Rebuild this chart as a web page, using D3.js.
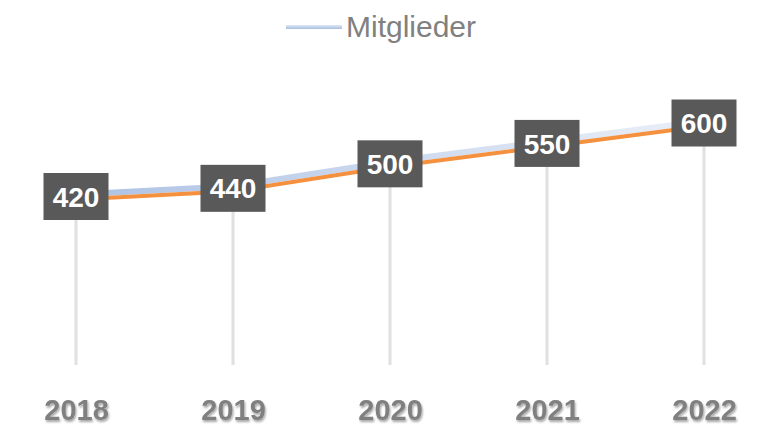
<!DOCTYPE html>
<html>
<head>
<meta charset="utf-8">
<script src="https://cdn.jsdelivr.net/npm/d3@7"></script>
<style>
  body { margin: 0; background: #fff; }
  svg { display: block; }
</style>
</head>
<body>
<div id="chart"></div>
<script>
// Daten
var years = ["2018", "2019", "2020", "2021", "2022"];
var mitglieder = [420, 440, 500, 550, 600];
var seriesName = "Mitglieder";

var width = 773;
var height = 428;

var svg = d3.select("#chart")
    .append("svg")
    .attr("width", width)
    .attr("height", height);

var defs = svg.append("defs");

// Verlauf für die blaue Linie (links kräftiger, rechts heller)
var grad = defs.append("linearGradient")
    .attr("id", "blueGrad")
    .attr("gradientUnits", "userSpaceOnUse")
    .attr("x1", 76).attr("x2", 704).attr("y1", 0).attr("y2", 0);
grad.append("stop").attr("offset", "0%").attr("stop-color", "#adc2e4");
grad.append("stop").attr("offset", "100%").attr("stop-color", "#ebf0f8");

var legGrad = defs.append("linearGradient")
    .attr("id", "legGrad")
    .attr("x1", 0).attr("x2", 0).attr("y1", 0).attr("y2", 1);
legGrad.append("stop").attr("offset", "0%").attr("stop-color", "#dfe7f4");
legGrad.append("stop").attr("offset", "100%").attr("stop-color", "#a9bfe2");

var dropGrad = defs.append("linearGradient")
    .attr("id", "dropGrad")
    .attr("x1", 0).attr("x2", 1).attr("y1", 0).attr("y2", 0);
dropGrad.append("stop").attr("offset", "0%").attr("stop-color", "#f5f5f5");
dropGrad.append("stop").attr("offset", "50%").attr("stop-color", "#dadada");
dropGrad.append("stop").attr("offset", "100%").attr("stop-color", "#f5f5f5");

var shadow = defs.append("filter").attr("id", "txtShadow")
    .attr("x", "-20%").attr("y", "-20%").attr("width", "140%").attr("height", "160%");
shadow.append("feDropShadow")
    .attr("dx", 1).attr("dy", 2).attr("stdDeviation", 1.2)
    .attr("flood-color", "#000").attr("flood-opacity", 0.35);

// Skalen
var xScale = d3.scalePoint()
    .domain(years)
    .range([76, 704]);

var yScale = d3.scaleLinear()
    .domain([0, 600])
    .range([368, 123]);

var pts = years.map(function (y, i) { return { year: y, value: mitglieder[i] }; });

// Fallinien
svg.selectAll("rect.drop")
    .data(pts)
    .enter()
    .append("rect")
    .attr("class", "drop")
    .attr("x", function (d) { return xScale(d.year) - 2; })
    .attr("y", function (d) { return yScale(d.value); })
    .attr("width", 4)
    .attr("height", function (d) { return 365 - yScale(d.value); })
    .attr("fill", "url(#dropGrad)");

// Linien (3D-Effekt: blaue Oberkante, orange Vorderkante)
var line = d3.line()
    .x(function (d) { return xScale(d.year); })
    .y(function (d) { return yScale(d.value); });

svg.append("path")
    .datum(pts)
    .attr("d", line)
    .attr("transform", "translate(0,-2)")
    .attr("fill", "none")
    .attr("stroke", "url(#blueGrad)")
    .attr("stroke-width", 6);

svg.append("path")
    .datum(pts)
    .attr("d", line)
    .attr("transform", "translate(0,3)")
    .attr("fill", "none")
    .attr("stroke", "#f5913e")
    .attr("stroke-width", 4);

// Datenbeschriftungen
var labels = svg.selectAll("g.lbl")
    .data(pts)
    .enter()
    .append("g")
    .attr("class", "lbl")
    .attr("transform", function (d) {
        return "translate(" + xScale(d.year) + "," + yScale(d.value) + ")";
    });

labels.append("rect")
    .attr("x", -32.5)
    .attr("y", -23.5)
    .attr("width", 65)
    .attr("height", 47)
    .attr("fill", "#595959");

labels.append("text")
    .attr("text-anchor", "middle")
    .attr("dy", "0.36em")
    .attr("fill", "#fff")
    .style("font-family", "'Liberation Sans', Arial, sans-serif")
    .style("font-weight", "bold")
    .style("font-size", "28px")
    .text(function (d) { return d.value; });

// X-Achse (nur Beschriftungen)
var xAxis = svg.append("g")
    .attr("transform", "translate(0,365)")
    .call(d3.axisBottom(xScale).tickSize(0).tickPadding(0));
xAxis.select(".domain").remove();
xAxis.selectAll("text")
    .attr("y", 0)
    .attr("dy", 0)
    .attr("transform", "translate(0,55)")
    .attr("fill", "#808080")
    .attr("filter", "url(#txtShadow)")
    .style("font-family", "'Liberation Sans', Arial, sans-serif")
    .style("font-weight", "bold")
    .style("font-size", "29px");

// Legende
svg.append("rect")
    .attr("x", 286)
    .attr("y", 25)
    .attr("width", 56)
    .attr("height", 4)
    .attr("fill", "url(#legGrad)");

svg.append("text")
    .attr("x", 346)
    .attr("y", 37)
    .attr("fill", "#808080")
    .style("font-family", "'Liberation Sans', Arial, sans-serif")
    .style("font-size", "30px")
    .text(seriesName);
</script>
</body>
</html>
